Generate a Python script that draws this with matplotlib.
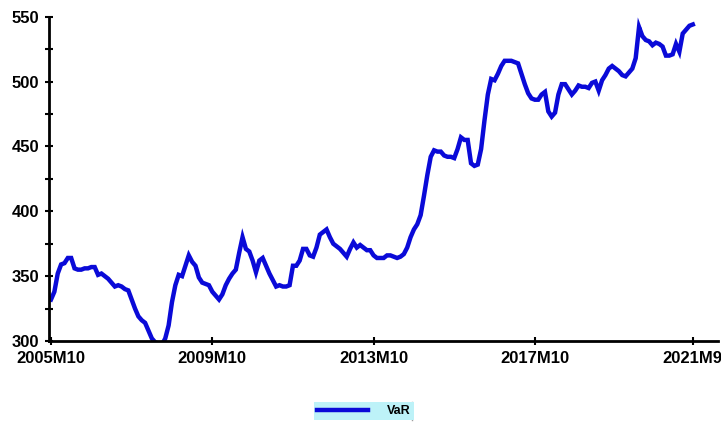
import numpy as np
import matplotlib
matplotlib.use( 'Agg' )
import matplotlib.pyplot as plt
from matplotlib.lines import Line2D

# monthly VaR, 2005M10 .. 2021M9
start_year, start_month = 2005, 10
var_values = [
    332, 338, 352, 359, 360, 364, 364, 356, 355, 355, 356, 356,
    357, 357, 351, 352, 350, 348, 345, 342, 343, 342, 340, 339,
    332, 325, 319, 316, 314, 308, 302, 299, 298, 297, 302, 312,
    330, 343, 351, 350, 358, 366, 361, 358, 349, 345, 344, 343,
    338, 335, 332, 336, 343, 348, 352, 355, 368, 380, 371, 369,
    362, 353, 362, 364, 358, 352, 347, 342, 343, 342, 342, 343,
    358, 358, 362, 371, 371, 366, 365, 372, 382, 384, 386, 380,
    375, 373, 371, 368, 365, 371, 376, 372, 374, 372, 370, 370,
    366, 364, 364, 364, 366, 366, 365, 364, 365, 367, 372, 380,
    386, 390, 397, 412, 428, 442, 447, 446, 446, 443, 442, 442,
    441, 448, 457, 455, 455, 437, 435, 436, 448, 470, 490, 502,
    501, 506, 512, 516, 516, 516, 515, 514, 506, 498, 491, 487,
    486, 486, 490, 492, 477, 473, 476, 490, 498, 498, 494, 490,
    493, 497, 496, 496, 495, 499, 500, 493, 501, 505, 510, 512,
    510, 508, 505, 504, 507, 510, 518, 542, 535, 532, 531, 528,
    530, 529, 527, 520, 520, 521, 529, 523, 537, 540, 543, 544,
]
months = np.arange( len( var_values ) )

def month_label( i ):
    total = start_year * 12 + ( start_month - 1 ) + i
    return '%dM%d' % ( total // 12,total % 12 + 1 )

xtick_pos = [ 0,48,96,144,191 ]
xtick_labels = [ month_label( i ) for i in xtick_pos ]
ytick_pos = list( range( 300,551,25 ) )
ytick_labels = [ str( v ) if v % 50 == 0 else '' for v in ytick_pos ]

plt.rcParams['font.family'] = ['Liberation Sans','DejaVu Sans']
plt.rcParams['font.weight'] = 'bold'

fig = plt.figure( figsize=( 7.21,4.23 ),dpi=100 )
ax = fig.add_axes( [ 49/721,1-341/423,(718-49)/721,(341-16.7)/423 ] )
ax.plot( months,var_values,color='#0a0ad8',linewidth=3.2,label='VaR',
         solid_joinstyle='miter' )
ax.set_xlim( -0.6,198.5 )
ax.set_ylim( 300,550 )

ax.set_xticks( xtick_pos )
ax.set_xticklabels( xtick_labels )
ax.set_yticks( ytick_pos )
ax.set_yticklabels( ytick_labels )
ax.tick_params( direction='inout',length=6,width=1.5,labelsize=12 )
ax.tick_params( axis='x',pad=4 )
ax.tick_params( axis='y',pad=4 )
for side in [ 'top','right' ]:
    ax.spines[ side ].set_visible( False )
for side in [ 'left','bottom' ]:
    ax.spines[ side ].set_linewidth( 2 )

leg = fig.legend( loc='center',bbox_to_anchor=( 364/721,1-411/423 ),
                  facecolor='#bdf2f8',edgecolor='none',framealpha=1,
                  fancybox=False,handlelength=4.1,handletextpad=1.5,
                  borderpad=0.25,borderaxespad=0,
                  prop={ 'weight':'bold','size':9 } )
leg.get_frame().set_linewidth( 0 )
# grey edge at right side of the legend box
fig.add_artist( Line2D( [ 412/721,412/721 ],[ 1-402/423,1-420/423 ],
                        transform=fig.transFigure,color='#a0a0a0',linewidth=1 ) )

fig.savefig( 'out.png',dpi=100 )
